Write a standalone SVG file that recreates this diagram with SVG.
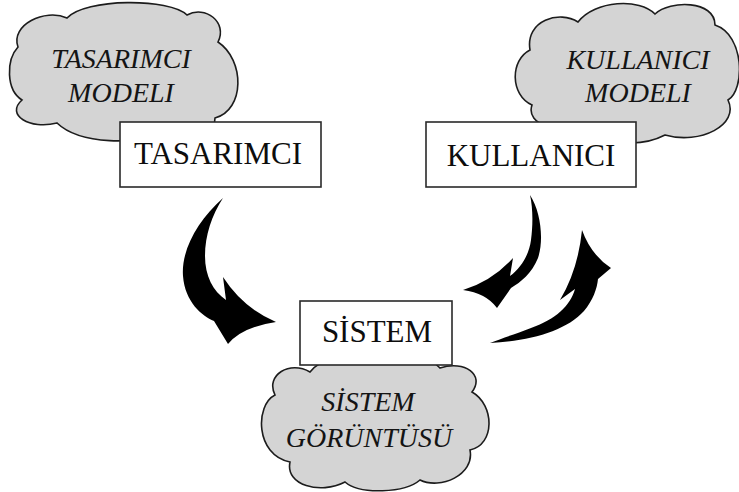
<svg xmlns="http://www.w3.org/2000/svg" width="739" height="492" viewBox="0 0 739 492">
  <style>
    .cloud { fill: #d4d4d4; stroke: #1c1c1c; stroke-width: 1.6; }
    .box { fill: #ffffff; stroke: #2a2a2a; stroke-width: 1.6; }
    .ctext { font-style: italic; font-size: 28px; fill: #141414; text-anchor: middle; }
    .btext { font-size: 31px; fill: #0d0d0d; text-anchor: middle; }
    .arrow { fill: #000000; stroke: none; }
  </style>
  <rect width="739" height="492" fill="#ffffff"/>

  <!-- designer's model -->
  <g id="cloud-tasarimci-modeli" font-family="Liberation Serif, Tinos, DejaVu Serif, serif">
    <path class="cloud" d="M18,47 C10,25 45,8 67,18 C85,-2 170,-2 187,15 C205,5 228,22 218,42 C245,60 245,110 215,118 C215,140 175,145 160,132 C140,145 80,145 57,123 C30,130 5,115 22,100 C6,90 6,60 18,47 Z"/>
    <text class="ctext" x="121" y="68">TASARIMCI</text>
    <text class="ctext" x="121" y="102">MODELI</text>
  </g>

  <!-- user's model -->
  <g id="cloud-kullanici-modeli" font-family="Liberation Serif, Tinos, DejaVu Serif, serif">
    <path class="cloud" d="M530,50 C525,20 560,10 578,22 C595,0 640,-2 655,14 C670,0 715,0 715,25 C745,35 745,90 728,100 C740,125 700,145 665,135 C640,148 600,145 585,125 C560,135 525,125 532,105 C510,95 510,60 530,50 Z"/>
    <text class="ctext" x="638" y="69">KULLANICI</text>
    <text class="ctext" x="638" y="102">MODELI</text>
  </g>

  <!-- system image -->
  <g id="cloud-sistem-goruntusu" font-family="Liberation Serif, Tinos, DejaVu Serif, serif">
    <path class="cloud" d="M275,395 C265,375 290,360 310,372 C330,345 420,345 440,368 C465,360 485,375 472,392 C495,405 495,445 470,450 C475,475 440,490 420,480 C405,493 360,495 345,482 C320,495 285,485 290,462 C255,455 255,405 275,395 Z"/>
    <text class="ctext" x="368" y="411">SİSTEM</text>
    <text class="ctext" x="369" y="447">GÖRÜNTÜSÜ</text>
  </g>

  <g id="node-tasarimci" font-family="Liberation Serif, Tinos, DejaVu Serif, serif">
    <rect class="box" x="120" y="122" width="201" height="65"/>
    <text class="btext" x="218" y="164">TASARIMCI</text>
  </g>

  <g id="node-kullanici" font-family="Liberation Serif, Tinos, DejaVu Serif, serif">
    <rect class="box" x="426" y="122" width="210" height="65"/>
    <text class="btext" x="531" y="166">KULLANICI</text>
  </g>

  <g id="node-sistem" font-family="Liberation Serif, Tinos, DejaVu Serif, serif">
    <rect class="box" x="300" y="301" width="152" height="64"/>
    <text class="btext" x="377" y="342">SİSTEM</text>
  </g>

  <!-- curved block arrows -->
  <g id="connectors">
    <path class="arrow" d="M223,198 C198,220 181,250 183,276 C185,302 202,316 214,321 L228,344 Q242,327 276,322 Q243,308 223,277 L226,300 C213,291 205,276 205,256 C205,235 212,215 223,198 Z"/>
    <path class="arrow" d="M530,195 C541,212 544,240 538,258 C532,273 521,282 511,288 L497,308 Q486,293 463,290 Q492,281 513,258 L510,276 C521,268 529,255 531,240 C533,225 533,208 530,195 Z"/>
    <path class="arrow" d="M490,343 C530,341 566,331 584,311 C593,300 597,289 598,279 L611,268 Q591,255 582,230 Q578,270 560,300 L575,289 C570,306 556,319 531,328 C516,334 502,338 490,343 Z"/>
  </g>
</svg>
